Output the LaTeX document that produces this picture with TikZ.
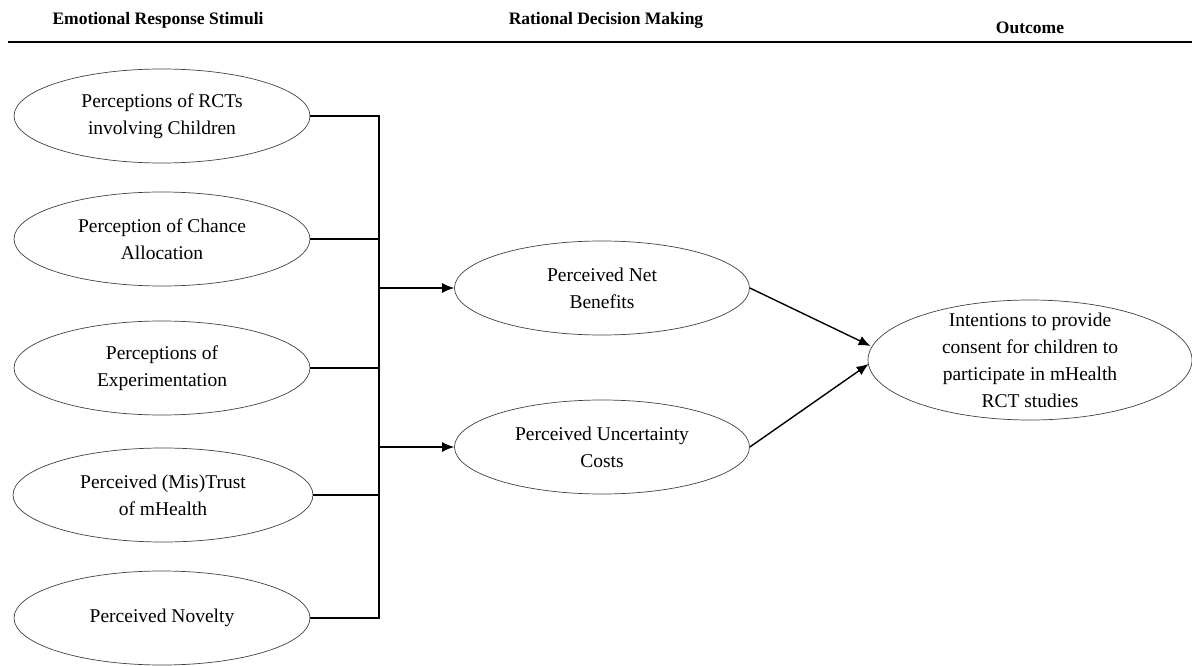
\documentclass[tikz,border=0pt]{standalone}
\usepackage{fontspec}
\setmainfont{Liberation Serif}
\usepackage{tikz}
\usetikzlibrary{positioning,shapes,arrows,arrows.meta,calc}
\tikzstyle{arrow}=[-{Latex[length=12pt,width=10pt]}, line width=1.4pt]
\tikzstyle{link}=[line width=1.4pt]
\tikzstyle{construct}=[ellipse, draw=black!75, line width=0.7pt, minimum width=296pt, minimum height=94pt, align=center, inner sep=2pt, font=\fontsize{19.5}{27}\selectfont]
\tikzstyle{heading}=[font=\fontsize{17.5}{21}\selectfont\bfseries]

\begin{document}
\begin{tikzpicture}[x=1pt,y=-1pt]
  \useasboundingbox (0,0) rectangle (1192,666);

  % column headings
  \node[heading] (hstim) at (158,20) {Emotional Response Stimuli};
  \node[heading] (hrat) at (606,20) {Rational Decision Making};
  \node[heading] (hout) at (1030,28) {Outcome};
  \draw[line width=1.5pt] (8,42) -- (1192,42);

  % emotional response stimuli
  \node[construct] (rct) at (162,116) {Perceptions of RCTs\\involving Children};
  \node[construct] (chance) at (162,239) {Perception of Chance\\Allocation};
  \node[construct] (exper) at (162,368) {Perceptions of\\Experimentation};
  \node[construct, minimum width=300pt] (trust) at (163,495) {Perceived (Mis)Trust\\of mHealth};
  \node[construct] (novelty) at (162,618) {Perceived Novelty};

  % rational decision making
  \node[construct, minimum width=295pt] (netb) at (602,288) {Perceived Net\\Benefits};
  \node[construct, minimum width=295pt] (uncert) at (602,447) {Perceived Uncertainty\\Costs};

  % outcome
  \node[construct, minimum width=324pt, minimum height=120pt] (intent) at (1030,360) {};
  \node[font=\fontsize{19.5}{27}\selectfont, align=center] (intenttext) at (intent) {Intentions to provide\\consent for children to\\participate in mHealth\\RCT studies};

  % connectors
  \coordinate (bustop) at (379,116);
  \coordinate (busbot) at (379,618);
  \foreach \n in {rct,chance,exper,trust,novelty}
    \draw[link] (\n.east) -- (\n.east -| bustop);
  \draw[link] ([yshift=0.7pt]bustop) -- ([yshift=-0.7pt]busbot);
  \draw[arrow] (netb.west -| bustop) -- (netb.west);
  \draw[arrow] (uncert.west -| bustop) -- (uncert.west);
  \draw[arrow] (netb.east) -- ($(intent.west)+(3,-14)$);
  \draw[arrow] (uncert.east) -- ($(intent.west)+(1,4)$);
\end{tikzpicture}
\end{document}
